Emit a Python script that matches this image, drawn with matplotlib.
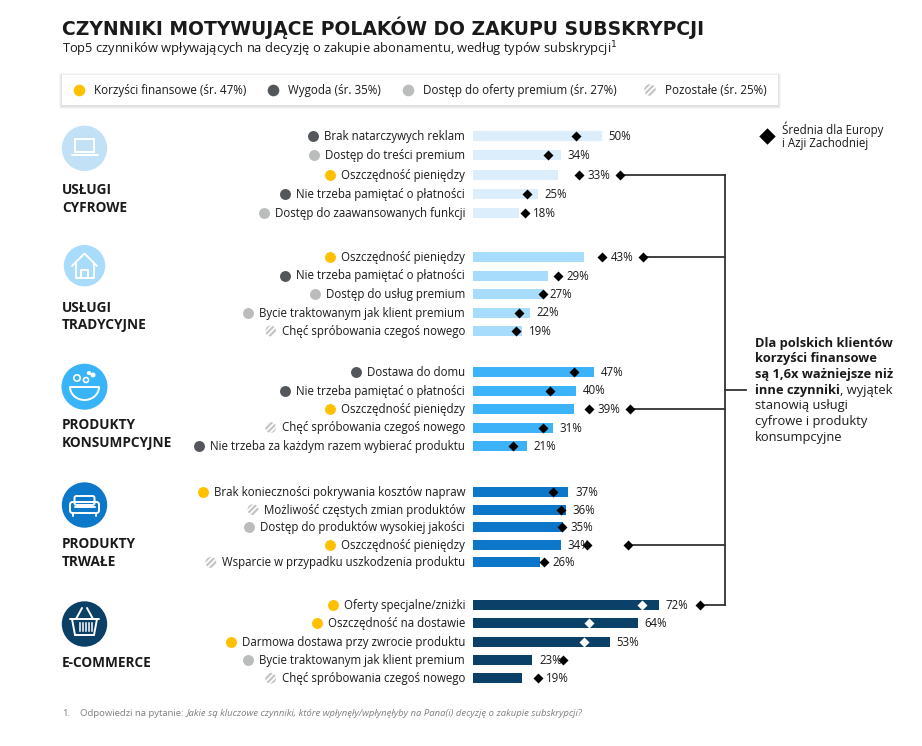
import matplotlib.pyplot as plt
from matplotlib.patches import Rectangle, Polygon, FancyBboxPatch, Arc, Circle

plt.rcParams['font.family'] = ['Open Sans', 'DejaVu Sans']
plt.rcParams['hatch.linewidth'] = 1.6

# ---- data ----
group_names = [["USŁUGI", "CYFROWE"], ["USŁUGI", "TRADYCYJNE"], ["PRODUKTY", "KONSUMPCYJNE"],
               ["PRODUKTY", "TRWAŁE"], ["E-COMMERCE"]]

dig_labels = ["Brak natarczywych reklam", "Dostęp do treści premium", "Oszczędność pieniędzy",
              "Nie trzeba pamiętać o płatności", "Dostęp do zaawansowanych funkcji"]
dig_values = [50, 34, 33, 25, 18]
dig_europe = [40, 29, 41, 21, 20]
dig_kind = ["wygoda", "premium", "finanse", "wygoda", "premium"]

trad_labels = ["Oszczędność pieniędzy", "Nie trzeba pamiętać o płatności", "Dostęp do usług premium",
               "Bycie traktowanym jak klient premium", "Chęć spróbowania czegoś nowego"]
trad_values = [43, 29, 27, 22, 19]
trad_europe = [50, 33, 27, 18, 16.5]
trad_kind = ["finanse", "wygoda", "premium", "premium", "inne"]

cons_labels = ["Dostawa do domu", "Nie trzeba pamiętać o płatności", "Oszczędność pieniędzy",
               "Chęć spróbowania czegoś nowego", "Nie trzeba za każdym razem wybierać produktu"]
cons_values = [47, 40, 39, 31, 21]
cons_europe = [39, 30, 45, 27, 15.5]
cons_kind = ["wygoda", "wygoda", "finanse", "inne", "wygoda"]

dur_labels = ["Brak konieczności pokrywania kosztów napraw", "Możliwość częstych zmian produktów",
              "Dostęp do produktów wysokiej jakości", "Oszczędność pieniędzy",
              "Wsparcie w przypadku uszkodzenia produktu"]
dur_values = [37, 36, 35, 34, 26]
dur_europe = [31, 34, 34.5, 44, 27.5]
dur_kind = ["finanse", "inne", "premium", "finanse", "inne"]

ecom_labels = ["Oferty specjalne/zniżki", "Oszczędność na dostawie", "Darmowa dostawa przy zwrocie produktu",
               "Bycie traktowanym jak klient premium", "Chęć spróbowania czegoś nowego"]
ecom_values = [72, 64, 53, 23, 19]
ecom_europe = [65.5, 45, 43, 35, 25]
ecom_kind = ["finanse", "finanse", "finanse", "premium", "inne"]

legend_labels = ["Korzyści finansowe (śr. 47%)", "Wygoda (śr. 35%)",
                 "Dostęp do oferty premium (śr. 27%)", "Pozostałe (śr. 25%)"]
legend_kinds = ["finanse", "wygoda", "premium", "inne"]

# which row of each group feeds the bracket (Oszczędność / financial)
linked_rows = [2, 0, 2, 3, 0]

all_labels = [dig_labels, trad_labels, cons_labels, dur_labels, ecom_labels]
all_values = [dig_values, trad_values, cons_values, dur_values, ecom_values]
all_europe = [dig_europe, trad_europe, cons_europe, dur_europe, ecom_europe]
all_kinds = [dig_kind, trad_kind, cons_kind, dur_kind, ecom_kind]

# ---- styling / layout ----
kind_color = {"finanse": "#FFC000", "wygoda": "#53565A", "premium": "#BBBCBC", "inne": "white"}
bar_colors = ["#DCEEFB", "#A7DCFD", "#3CB3F8", "#0C77C8", "#0B4168"]
icon_colors = ["#C3E1F6", "#A9DBFA", "#3AB4F8", "#0C78C9", "#0B4066"]
inside_diamond = ["black", "black", "black", "black", "white"]
group_tops = [136, 257, 372, 492, 605]
row_steps = [19.3, 18.5, 18.5, 17.6, 18.3]
icon_y = [148.3, 265.7, 386.7, 505, 624]
icon_r = [22.7, 20.7, 23, 22.7, 22.7]
name_y = [189.5, 307.5, 425, 544, 663]
TXT = "#1a1a1a"

W, H = 922, 746
X0, PX = 473, 2.58  # bar origin (px) and px per percent

fig = plt.figure(figsize=(W / 100, H / 100), dpi=100)
ax = fig.add_axes([0, 0, 1, 1])          # x in percent, y in pixels
ax.set_xlim(-X0 / PX, (W - X0) / PX)
ax.set_ylim(H, 0)
ax.axis("off")
deco = fig.add_axes([0, 0, 1, 1])        # plain pixel coordinates
deco.set_xlim(0, W)
deco.set_ylim(H, 0)
deco.axis("off")


def pct(px):
    return (px - X0) / PX


# ---- title ----
deco.text(62, 27.5, "CZYNNIKI MOTYWUJĄCE POLAKÓW DO ZAKUPU SUBSKRYPCJI", fontsize=13.5,
          fontweight="bold", family="DejaVu Sans", color=TXT, va="center", ha="left")
deco.text(62, 49, "Top5 czynników wpływających na decyzję o zakupie abonamentu, według typów subskrypcji$^1$",
          fontsize=9.3, color=TXT, va="center", ha="left")

# ---- legend box ----
for i, a in enumerate([0.03, 0.04, 0.05]):
    deco.add_patch(Rectangle((62 - 3 + i, 75 - 2 + i), 716 + 6 - 2 * i, 30 + 6 - 2 * i,
                             facecolor="black", alpha=a, lw=0, zorder=1))
deco.add_patch(Rectangle((62, 75), 716, 30, facecolor="white", lw=0, zorder=2))
leg_dot_x = [79, 273, 408, 650]
for lx, lab, k in zip(leg_dot_x, legend_labels, legend_kinds):
    if k == "inne":
        deco.scatter(lx, 90, s=70, facecolor="white", edgecolor="#C4C4C4", hatch="//////", lw=0, zorder=3)
    else:
        deco.scatter(lx, 90, s=70, color=kind_color[k], lw=0, zorder=3)
    deco.text(lx + 15, 90.5, lab, fontsize=8.4, color=TXT, va="center", ha="left", zorder=3)

# ---- Europe legend ----
deco.scatter(767, 136, marker="D", s=70, color="black", lw=0)
deco.text(782, 129, "Średnia dla Europy", fontsize=8.3, color=TXT, va="center")
deco.text(782, 143, "i Azji Zachodniej", fontsize=8.3, color=TXT, va="center")

# ---- bars ----
row_texts = []
link_pts = []
for g in range(5):
    ys = [group_tops[g] + j * row_steps[g] for j in range(5)]
    vals, eur = all_values[g], all_europe[g]
    ax.barh(ys, vals, left=0, height=10, color=bar_colors[g], lw=0, zorder=2)
    for j, (y, v, e) in enumerate(zip(ys, vals, eur)):
        dcol = inside_diamond[g] if e < v else "black"
        ax.scatter(e, y, marker="D", s=26, color=dcol, lw=0, zorder=3)
        lx = e + 3.3 if v < e < v + 10 else v + 2.6
        ax.text(lx, y + 0.5, f"{v}%", fontsize=8.3, color=TXT, va="center", ha="left")
        t = deco.text(465, y + 0.5, all_labels[g][j], fontsize=8.3, color=TXT, va="center", ha="right")
        row_texts.append((t, y, all_kinds[g][j]))
        if j == linked_rows[g]:
            link_pts.append((max(v, e) + 16, y))

    # icon + group name
    cy = icon_y[g]
    deco.add_patch(Circle((84.5, cy), icon_r[g], color=icon_colors[g], lw=0))
    for k, line in enumerate(group_names[g]):
        deco.text(62, name_y[g] + k * 18, line, fontsize=9.8, fontweight="bold", color=TXT,
                  va="center", ha="left")

# icon drawings (white line art)
wk = dict(color="white", lw=1.4, solid_capstyle="round", zorder=5)
# laptop
deco.add_patch(Rectangle((75, 139), 19, 13, fill=False, edgecolor="white", lw=1.4, zorder=5))
deco.plot([71.5, 97.5], [155, 155], **wk)
# house
deco.plot([72, 84.5, 97], [266, 253.5, 266], **wk)
deco.plot([75.5, 75.5, 93.5, 93.5], [263, 278, 278, 263], **wk)
deco.plot([81, 81, 88, 88], [278, 270, 270, 278], **wk)
# bowl
deco.plot([70, 99], [387, 387], **wk)
deco.add_patch(Arc((84.5, 387), 29, 26, theta1=0, theta2=180, color="white", lw=1.4, zorder=5))
deco.add_patch(Circle((77, 378), 3.2, fill=False, edgecolor="white", lw=1.2, zorder=5))
deco.add_patch(Circle((86, 380), 2.5, fill=False, edgecolor="white", lw=1.2, zorder=5))
deco.add_patch(Circle((93, 375), 1.8, color="white", zorder=5))
deco.add_patch(Circle((89, 373), 1.4, color="white", zorder=5))
# sofa
deco.add_patch(FancyBboxPatch((74.5, 496), 20, 9, boxstyle="round,pad=0,rounding_size=2",
                              fill=False, edgecolor="white", lw=1.4, zorder=5))
deco.add_patch(FancyBboxPatch((70, 502), 29, 11, boxstyle="round,pad=0,rounding_size=2.5",
                              fill=False, edgecolor="white", lw=1.4, zorder=5))
deco.plot([74.5, 94.5], [507, 507], **wk)
deco.plot([73, 73], [513, 516], **wk)
deco.plot([96, 96], [513, 516], **wk)
# basket
deco.plot([70, 99], [619, 619], **wk)
deco.add_patch(Polygon([(72, 619), (97, 619), (94, 635), (75, 635)], closed=True,
                       fill=False, edgecolor="white", lw=1.4, zorder=5))
for bx in [79.5, 82.5, 85.5, 88.5, 91.5]:
    deco.plot([bx, bx], [623, 631], color="white", lw=1.1, zorder=5)
deco.plot([76, 82], [619, 608], **wk)
deco.plot([93, 87], [619, 608], **wk)

# ---- dots in front of row labels (need text extents) ----
fig.canvas.draw()
rend = fig.canvas.get_renderer()
for t, y, k in row_texts:
    x0 = t.get_window_extent(rend).x0
    if k == "inne":
        deco.scatter(x0 - 11, y, s=62, facecolor="white", edgecolor="#C4C4C4", hatch="//////", lw=0, zorder=3)
    else:
        deco.scatter(x0 - 11, y, s=62, color=kind_color[k], lw=0, zorder=3)

# ---- bracket ----
bx = pct(725)
for cx, cy in link_pts:
    ax.plot([cx, bx], [cy, cy], color="#333333", lw=1.3, zorder=2)
    ax.scatter(cx, cy, marker="D", s=26, color="black", lw=0, zorder=3)
ax.plot([bx, bx], [link_pts[0][1], link_pts[-1][1]], color="#333333", lw=1.3)
mid = (link_pts[0][1] + link_pts[-1][1]) / 2
ax.plot([bx, pct(746)], [mid, mid], color="#333333", lw=1.3)

ann_bold = ["Dla polskich klientów", "korzyści finansowe", "są 1,6x ważniejsze niż"]
ann_reg = ["stanowią usługi", "cyfrowe i produkty", "konsumpcyjne"]
ly = 343
for s in ann_bold:
    deco.text(755, ly, s, fontsize=9.3, fontweight="bold", color=TXT, va="center")
    ly += 15.7
t = deco.text(755, ly, "inne czynniki", fontsize=9.3, fontweight="bold", color=TXT, va="center")
fig.canvas.draw()
x1 = t.get_window_extent(fig.canvas.get_renderer()).x1
deco.text(x1, ly, ", wyjątek", fontsize=9.3, color=TXT, va="center")
ly += 15.7
for s in ann_reg:
    deco.text(755, ly, s, fontsize=9.3, color=TXT, va="center")
    ly += 15.7

# ---- footnote ----
deco.text(62, 714, "1.", fontsize=6.8, color="#7F7F7F", va="center")
t = deco.text(80, 714, "Odpowiedzi na pytanie: ", fontsize=6.8, color="#7F7F7F", va="center")
fig.canvas.draw()
x1 = t.get_window_extent(fig.canvas.get_renderer()).x1
deco.text(x1, 714, "Jakie są kluczowe czynniki, które wpłynęły/wpłynęłyby na Pana(i) decyzję o zakupie subskrypcji?",
          fontsize=6.8, style="italic", color="#7F7F7F", va="center")

fig.savefig("out.png", dpi=100, facecolor="white")
